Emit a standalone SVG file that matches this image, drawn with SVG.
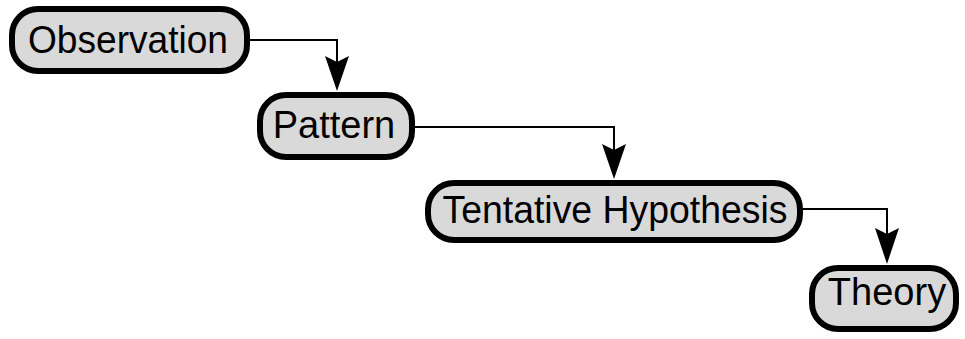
<svg xmlns="http://www.w3.org/2000/svg" width="965" height="339" viewBox="0 0 965 339">
<style>
.box{fill:#d9d9d9;stroke:#000;stroke-width:6}
.lbl{font-family:"Liberation Sans",Arial,sans-serif;font-size:38px;fill:#000;text-anchor:middle}
.conn{fill:none;stroke:#000;stroke-width:2}
.head{fill:#000;stroke:none}
</style>
<rect width="965" height="339" fill="#fff"/>
<g id="connectors">
<path class="conn" d="M250 40 H337 V70"/>
<path class="head" d="M325 56 L337 91 L349 56 L337 62 Z"/>
<path class="conn" d="M415 127 H614 V155"/>
<path class="head" d="M602 144 L614 179 L626 144 L614 150 Z"/>
<path class="conn" d="M803 209 H887 V240"/>
<path class="head" d="M875 228 L887 264 L899 228 L887 234 Z"/>
</g>
<g id="observation">
<rect class="box" x="12" y="9" width="235" height="62" rx="26"/>
<text class="lbl" x="128" y="53" textLength="200" lengthAdjust="spacingAndGlyphs">Observation</text>
</g>
<g id="pattern">
<rect class="box" x="260" y="95" width="152" height="62" rx="26"/>
<text class="lbl" x="334" y="138">Pattern</text>
</g>
<g id="tentative-hypothesis">
<rect class="box" x="428" y="183" width="372" height="57" rx="26"/>
<text class="lbl" x="615" y="223" textLength="345" lengthAdjust="spacingAndGlyphs">Tentative Hypothesis</text>
</g>
<g id="theory">
<rect class="box" x="812" y="268" width="144" height="61" rx="26"/>
<text class="lbl" x="887" y="305">Theory</text>
</g>
</svg>
